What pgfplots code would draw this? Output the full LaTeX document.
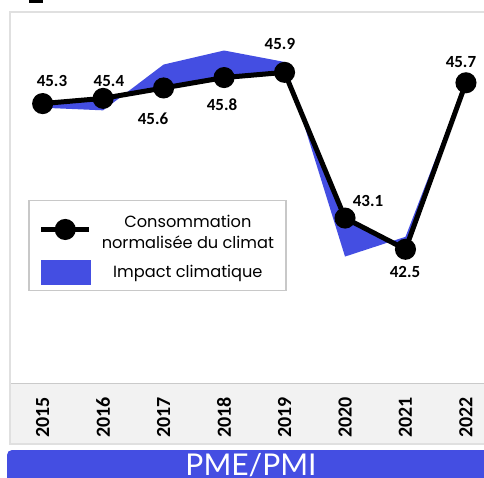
\documentclass[border=0pt]{standalone}
\usepackage{pgfplots}
\pgfplotsset{compat=1.18}
\usepackage{pgfplotstable}
\usepackage{fontspec}
\setmainfont{Carlito}
\newfontfamily\poppins{Poppins}
\newfontfamily\lato{Lato}
\definecolor{myblue}{RGB}{68,78,226}
\definecolor{framegray}{RGB}{224,224,224}
\definecolor{bandgray}{RGB}{242,242,242}
\definecolor{leggray}{RGB}{200,200,200}

\pgfplotstableread{
x con lab lx ly
0 45.3 45.3 9.3 22.7
1 45.4 45.4 5.8 17.5
2 45.6 45.6 -10.6 -30.9
3 45.8 45.8 -2 -27.3
4 45.9 45.9 -4.6 28.5
5 43.1 43.1 23 17.1
6 42.5 42.5 -0.5 -22.7
7 45.7 45.7 -5 20.9
}\data

\begin{document}
\begin{tikzpicture}
\useasboundingbox (0pt,0pt) rectangle (484pt,477pt);
\fill[bandgray] (10pt,33pt) rectangle (500pt,94pt);
\draw[framegray!90!black, line width=1pt] (10pt,94pt) -- (500pt,94pt);
\draw[framegray, line width=2pt] (10pt,33pt) rectangle (500pt,465pt);
\fill[myblue, rounded corners=5pt] (7pt,-10pt) rectangle (500pt,27pt);
\node[text=white, anchor=base, inner sep=0pt, font=\lato\fontsize{30}{30}\selectfont] at (251pt,2pt) {PME/PMI};
\fill (29pt,474pt) rectangle (43pt,480pt);

\begin{axis}[
  at={(10pt,94pt)}, anchor=south west,
  scale only axis, width=488pt, height=371pt,
  xmin=-0.54, xmax=7.53, ymin=39.93, ymax=47.06,
  hide y axis,
  axis line style={draw=none},
  xtick={0,...,7},
  xticklabels={2015,2016,2017,2018,2019,2020,2021,2022},
  major tick length=0pt,
  xticklabel style={rotate=90, anchor=east, inner sep=0pt,
    font=\bfseries\fontsize{20}{20}\selectfont},
  xticklabel shift=14pt,
  legend style={at={(rel axis cs:0.0369,0.4933)}, anchor=north west,
    draw=leggray, line width=1.5pt, fill=white,
    font=\poppins\fontsize{16.2}{21}\selectfont,
    inner xsep=10pt, inner ysep=6pt, row sep=8pt, column sep=8pt},
  legend cell align=center,
]
% Impact climatique: area between the impact series (forward) and the consumption series (backward)
\addplot[fill=myblue, draw=none, forget plot] coordinates {
  (0,45.22) (1,45.17) (2,46.05) (3,46.32) (4,46.10) (5,42.36) (6,42.74) (7,45.75)
  (7,45.7) (6,42.5) (5,43.1) (4,45.9) (3,45.8) (2,45.6) (1,45.4) (0,45.3)
} -- cycle;
\addplot[black, line width=5pt, mark=*, mark size=8pt,
  mark options={draw=none, fill=black},
  legend image code/.code={
    \draw[line width=5pt] (0pt,0pt) -- (48pt,0pt);
    \fill (24pt,0pt) circle (8pt);}
  ] table[x=x, y=con]{\data};
\addlegendentry{\begin{tabular}[b]{@{}c@{}}\rule{0pt}{19pt}Consommation\\normalisée du climat\end{tabular}}
\addlegendimage{legend image code/.code={
    \fill[myblue] (0pt,-11.5pt) rectangle (49pt,11.5pt);}}
\addlegendentry{Impact climatique}
\addplot[draw=none, mark=none, forget plot,
  nodes near coords, point meta=explicit symbolic,
  visualization depends on={\thisrow{lx}\as\lx},
  visualization depends on={\thisrow{ly}\as\ly},
  every node near coord/.append style={anchor=center, inner sep=0pt,
    xshift=\lx pt, yshift=\ly pt, text=black,
    font=\bfseries\fontsize{17}{17}\selectfont}
  ] table[x=x, y=con, meta=lab]{\data};
\end{axis}
\end{tikzpicture}
\end{document}
